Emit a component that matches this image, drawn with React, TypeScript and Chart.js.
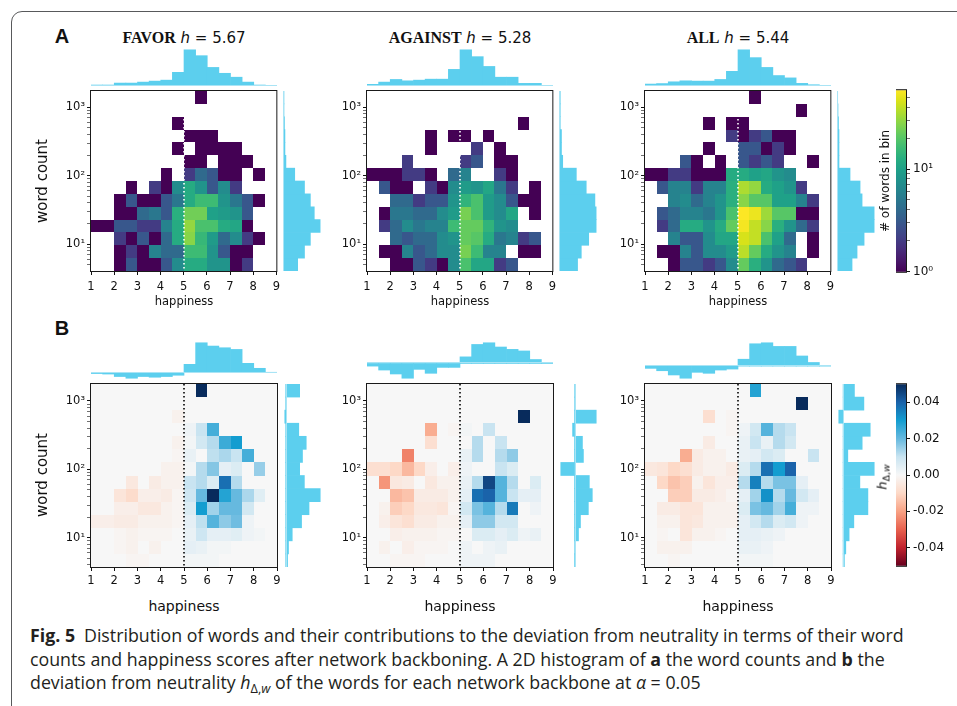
import React, { useEffect, useRef } from "react";
import { Chart, registerables } from "chart.js";

Chart.register(...registerables);

// ---------------------------------------------------------------- data
const STANCES = ["FAVOR", "AGAINST", "ALL"];
const MEAN_HAPPINESS = ["5.67", "5.28", "5.44"];
const HAPPINESS_EDGES = [1, 1.5, 2, 2.5, 3, 3.5, 4, 4.5, 5, 5.5, 6, 6.5, 7, 7.5, 8, 8.5, 9];
const HAPPINESS_TICKS = [1, 2, 3, 4, 5, 6, 7, 8, 9];
const NEUTRAL_HAPPINESS = 5;
const WORD_COUNT_BINS = 14;
const WORD_COUNT_LOG_RANGE_A = [0.606, 3.238];
const WORD_COUNT_LOG_RANGE_B = [0.572, 3.247];
const COUNT_COLOR_MAX = 58.5;
const COUNT_CBAR_MAJOR = [1, 10];
const DELTA_LIMIT = 0.05;
const DELTA_CBAR_TICKS = [-0.04, -0.02, 0, 0.02, 0.04];
const DELTA_UNIT = 0.001; // delta grids below are in thousandths

// words per (happiness bin, word-count bin); rows = word-count bins from low to high
const favorCounts = [
  [0, 0, 1, 3, 1, 1, 3, 7, 12, 12, 8, 8, 1, 2, 0, 0],
  [0, 0, 1, 2, 1, 6, 4, 4, 16, 16, 8, 3, 1, 1, 0, 0],
  [0, 0, 2, 1, 3, 1, 4, 12, 28, 15, 9, 4, 7, 2, 1, 0],
  [1, 1, 3, 3, 2, 2, 6, 12, 30, 18, 18, 12, 11, 1, 0, 0],
  [0, 0, 1, 1, 4, 5, 3, 13, 24, 24, 10, 9, 8, 3, 0, 0],
  [0, 0, 1, 3, 1, 1, 3, 5, 12, 16, 16, 8, 5, 3, 1, 0],
  [0, 0, 0, 1, 0, 2, 1, 7, 12, 8, 3, 7, 2, 0, 0, 0],
  [0, 0, 0, 0, 0, 0, 1, 0, 2, 4, 3, 1, 1, 0, 1, 0],
  [0, 0, 0, 0, 0, 0, 0, 0, 1, 1, 0, 1, 1, 1, 0, 0],
  [0, 0, 0, 0, 0, 0, 0, 1, 0, 1, 1, 1, 1, 0, 0, 0],
  [0, 0, 0, 0, 0, 0, 0, 0, 1, 1, 1, 0, 0, 0, 0, 0],
  [0, 0, 0, 0, 0, 0, 0, 1, 0, 0, 0, 0, 0, 0, 0, 0],
  [0, 0, 0, 0, 0, 0, 0, 0, 0, 0, 0, 0, 0, 0, 0, 0],
  [0, 0, 0, 0, 0, 0, 0, 0, 0, 1, 0, 0, 0, 0, 0, 0],
];
const againstCounts = [
  [0, 0, 1, 1, 3, 2, 1, 7, 18, 11, 11, 2, 3, 0, 0, 0],
  [0, 1, 1, 6, 3, 4, 7, 7, 25, 16, 6, 6, 0, 1, 1, 0],
  [0, 0, 4, 3, 4, 4, 7, 8, 22, 20, 12, 5, 6, 2, 3, 0],
  [0, 2, 4, 7, 5, 6, 6, 16, 22, 22, 14, 8, 7, 0, 0, 0],
  [0, 1, 5, 5, 4, 4, 7, 9, 25, 18, 9, 7, 11, 0, 1, 0],
  [0, 0, 4, 4, 2, 3, 3, 8, 14, 18, 9, 7, 3, 1, 1, 0],
  [0, 3, 1, 1, 0, 2, 1, 7, 9, 8, 11, 5, 2, 0, 1, 0],
  [1, 1, 1, 2, 2, 1, 0, 4, 6, 0, 0, 2, 1, 0, 0, 0],
  [0, 0, 0, 2, 0, 0, 0, 0, 2, 3, 0, 1, 1, 0, 0, 0],
  [0, 0, 0, 0, 0, 1, 0, 0, 0, 2, 0, 1, 0, 0, 0, 0],
  [0, 0, 0, 0, 0, 1, 0, 1, 1, 0, 1, 0, 0, 0, 0, 0],
  [0, 0, 0, 0, 0, 0, 0, 0, 0, 0, 0, 0, 0, 1, 0, 0],
  [0, 0, 0, 0, 0, 0, 0, 0, 0, 0, 0, 0, 0, 0, 0, 0],
  [0, 0, 0, 0, 0, 0, 0, 0, 0, 0, 0, 0, 0, 0, 0, 0],
];
const allCounts = [
  [0, 0, 1, 3, 3, 2, 3, 7, 22, 13, 8, 4, 3, 2, 0, 0],
  [0, 1, 1, 6, 3, 7, 7, 9, 38, 22, 12, 8, 6, 0, 1, 0],
  [0, 0, 6, 3, 3, 7, 11, 11, 45, 40, 18, 10, 4, 0, 1, 0],
  [0, 2, 4, 12, 12, 8, 12, 22, 55, 40, 28, 13, 8, 4, 2, 0],
  [0, 3, 4, 6, 6, 5, 8, 18, 58, 52, 32, 20, 20, 1, 1, 0],
  [0, 0, 6, 7, 4, 6, 8, 13, 28, 20, 20, 10, 10, 6, 2, 0],
  [0, 3, 6, 6, 2, 6, 6, 13, 35, 30, 12, 10, 8, 2, 0, 0],
  [1, 1, 2, 2, 1, 1, 1, 12, 12, 10, 11, 8, 7, 0, 0, 0],
  [0, 0, 0, 3, 1, 0, 1, 0, 3, 2, 3, 2, 0, 0, 1, 0],
  [0, 0, 0, 0, 0, 1, 0, 0, 3, 3, 1, 2, 1, 0, 0, 0],
  [0, 0, 0, 0, 0, 0, 0, 2, 1, 2, 3, 1, 1, 0, 0, 0],
  [0, 0, 0, 0, 0, 1, 0, 1, 1, 0, 0, 0, 0, 0, 0, 0],
  [0, 0, 0, 0, 0, 0, 0, 0, 0, 0, 0, 0, 0, 1, 0, 0],
  [0, 0, 0, 0, 0, 0, 0, 0, 0, 1, 0, 0, 0, 0, 0, 0],
];

// deviation from neutrality h_{Δ,w} per bin (thousandths)
const favorDelta = [
  [0, 0, 0, -1, -1, 0, 0, 0, 1, 1, 1, 0, 0, 0, 0, 0],
  [0, 0, -1, -2, 0, -2, 0, 0, 4, 3, 1, 1, 0, 0, 0, 0],
  [0, 0, -1, -2, -1, -1, -1, 0, 3, 9, 4, 4, 5, 2, 1, 0],
  [-3, -3, -4, -4, -2, -2, -2, -1, 4, 11, 22, 16, 19, 2, 0, 0],
  [0, 0, -3, -3, -5, -5, -2, -1, 6, 30, 14, 20, 20, 8, 0, 0],
  [0, 0, -6, -9, -3, -3, -4, -1, 9, 20, 50, 28, 20, 13, 5, 0],
  [0, 0, 0, -5, 0, -4, -2, -2, 10, 12, 6, 38, 12, 0, 0, 0],
  [0, 0, 0, 0, 0, 0, -2, -2, 1, 12, 17, 4, 6, 0, 15, 0],
  [0, 0, 0, 0, 0, 0, 0, -1, 3, 0, 11, 13, 10, 24, 0, 0],
  [0, 0, 0, 0, 0, 0, 0, -2, 1, 8, 12, 25, 30, 0, 0, 0],
  [0, 0, 0, 0, 0, 0, 0, 0, 2, 10, 24, 0, 0, 0, 0, 0],
  [0, 0, 0, 0, 0, 0, 0, -2, 0, 0, 0, 0, 0, 0, 0, 0],
  [0, 0, 0, 0, 0, 0, 0, 0, 0, 0, 0, 0, 0, 0, 0, 0],
  [0, 0, 0, 0, 0, 0, 0, 0, 0, 50, 0, 0, 0, 0, 0, 0],
];
const againstDelta = [
  [0, 0, -1, -1, -1, 0, 0, 0, 2, 2, 2, 0, 0, 0, 0, 0],
  [0, -2, 0, -3, -1, -1, -1, 0, 2, 0, 2, 3, 0, 0, 0, 0],
  [0, 0, -3, -2, -2, -2, -1, -1, 0, 6, 6, 4, 6, 2, 3, 0],
  [0, -3, -6, -8, -4, -4, -2, -2, 4, 16, 16, 8, 8, 0, 0, 0],
  [0, -2, -12, -10, -5, -5, -6, -1, 8, 18, 22, 12, 36, 0, 2, 0],
  [0, 0, -16, -14, -4, -4, -4, -2, 4, 38, 40, 22, 10, 4, 4, 0],
  [0, -22, -5, -4, 0, -5, -2, -2, 3, 12, 45, 22, 12, 0, 6, 0],
  [-8, -8, -10, -16, -10, -3, 0, -3, 2, 0, 0, 10, 6, 0, 0, 0],
  [0, 0, 0, -25, 0, 0, 0, 0, 3, 12, 0, 12, 16, 0, 0, 0],
  [0, 0, 0, 0, 0, -8, 0, 0, 0, 12, 0, 10, 0, 0, 0, 0],
  [0, 0, 0, 0, 0, -18, 0, -1, 1, 0, 10, 0, 0, 0, 0, 0],
  [0, 0, 0, 0, 0, 0, 0, 0, 0, 0, 0, 0, 0, 50, 0, 0],
  [0, 0, 0, 0, 0, 0, 0, 0, 0, 0, 0, 0, 0, 0, 0, 0],
  [0, 0, 0, 0, 0, 0, 0, 0, 0, 0, 0, 0, 0, 0, 0, 0],
];
const allDelta = [
  [0, 0, -1, 0, 0, 0, 0, 0, 1, 1, 1, 0, 0, 0, 0, 0],
  [0, -2, -2, -2, 0, 0, 0, 0, 3, 3, 2, 0, 0, 0, 0, 0],
  [0, -1, 0, -6, -2, -2, -1, 0, 4, 4, 3, 2, 0, 0, 0, 0],
  [0, -2, -2, -6, -5, -2, -2, -2, 4, 8, 12, 6, 8, 2, 0, 0],
  [0, -4, -4, -6, -6, -2, -2, -2, 6, 18, 20, 14, 24, 2, 2, 0],
  [0, 0, -12, -12, -4, -4, -3, -1, 4, 14, 32, 12, 20, 8, 4, 0],
  [0, -10, -14, -12, -2, -6, -3, -3, 12, 35, 12, 18, 18, 4, 0, 0],
  [-5, -6, -10, -8, -4, -2, -2, -4, 6, 12, 38, 30, 40, 0, 0, 0],
  [0, 0, 0, -18, -4, -2, -2, 0, 3, 4, 8, 6, 0, 0, 10, 0],
  [0, 0, 0, 0, 0, -4, 0, 0, 3, 10, 3, 12, 8, 0, 0, 0],
  [0, 0, 0, 0, 0, 0, 0, -1, 2, 8, 22, 12, 10, 0, 0, 0],
  [0, 0, 0, 0, 0, -8, 0, -1, 0, 0, 0, 0, 0, 0, 0, 0],
  [0, 0, 0, 0, 0, 0, 0, 0, 0, 0, 0, 0, 0, 50, 0, 0],
  [0, 0, 0, 0, 0, 0, 0, 0, 0, 28, 0, 0, 0, 0, 0, 0],
];

// marginal distributions (relative heights), happiness bins left -> right
const favorHappinessHist = [1, 1, 3, 3, 4, 5, 6, 14, 37, 31, 19, 13, 9, 4, 1, 0];
const againstHappinessHist = [1.7, 4, 6.7, 5.3, 6, 7, 7, 17, 37, 30, 20, 9, 9, 2.7, 2.7, 0.7];
const allHappinessHist = [2, 2.5, 4.3, 5.3, 5, 5, 6.7, 15, 37, 29, 19, 10.7, 8.3, 2.7, 1.3, 0];
// word-count bins low -> high
const favorWordCountHist = [15, 22, 28, 38, 32, 28, 22, 12, 3, 2, 2, 1.5, 1, 1];
const againstWordCountHist = [15, 18, 24, 30, 30, 29, 22, 14, 3, 2, 2, 1, 1, 1];
const allWordCountHist = [15, 20, 27, 37, 37, 25, 23, 13, 2, 2, 2, 1.5, 1, 0.7];

const favorDeltaByHappiness = [-1, -1.5, -4, -5.7, -4, -4.7, -4, -2.7, 8.3, 30, 26.7, 25, 23.3, 9.3, 4.3, 0.3];
const againstDeltaByHappiness = [-2.7, -6.7, -10.7, -15, -6, -10, -4, -4, 6.7, 19.3, 21, 16.7, 14.3, 12.7, 4, 0.7];
const allDeltaByHappiness = [-2.3, -4.7, -9, -12.3, -6.3, -7.3, -4, -3, 7, 22.7, 23.7, 20, 20, 10.3, 3.7, 0.3];
const favorDeltaByWordCount = [2, 3, 7, 17, 25, 37, 20, 15, 18, 22, 14, -1, 0, 15];
const againstDeltaByWordCount = [1, 0, 4, 6, 14, 18, 15, -14, 9, 8, -2, 22, 0, 0];
const allDeltaByWordCount = [1.3, 2.7, 6, 10.7, 24.7, 24.7, 16.7, 31, 4.7, 19, 27, -4.3, 20.7, 11.3];

// ---------------------------------------------------------------- styles / layout
const PANEL_LEFT = [91, 367, 645];
const PLOT_W = 186;
const ROW_A = { top: 91, height: 180 };
const ROW_B = { top: 384, height: 183 };
const TOP_HIST_A = { top: 48, height: 38 };
const TOP_HIST_B = { top: 341, height: 39 };
const RIGHT_HIST_LEFT = [283, 559, 837];
const RIGHT_HIST_W = 39;
const CBAR_LEFT = 896;
const CBAR_W = 10;
const Y_AXIS_W = 45;
const X_AXIS_H = 28;
const HM_PAD_T = 10;
const HM_PAD_R = 8;
const CB_AXIS_W = 44;
const CB_PAD = 10;
const HIST_FILL = "#5ccfee";
const HIST_EDGE = "#a9e4f5";
const FRAME_COLOR = "#1a1a1a";
const TICK_FONT = { family: "DejaVu Sans", size: 11.5 };
const CB_FONT = { family: "DejaVu Sans", size: 12 };

const VIRIDIS: [number, string][] = [
  [0.0, "#440154"], [0.0625, "#48186a"], [0.125, "#472d7b"], [0.1875, "#424086"],
  [0.25, "#3b528b"], [0.3125, "#33638d"], [0.375, "#2c728e"], [0.4375, "#26828e"],
  [0.5, "#21918c"], [0.5625, "#1fa088"], [0.625, "#28ae80"], [0.6875, "#3fbc73"],
  [0.75, "#5ec962"], [0.8125, "#84d44b"], [0.875, "#addc30"], [0.9375, "#d8e219"],
  [1.0, "#fde725"],
];
const RDBU: [number, string][] = [
  [0.0, "#67001f"], [0.1, "#c0232e"], [0.2, "#e8614e"], [0.3, "#f8a284"],
  [0.4, "#fdd9c7"], [0.5, "#f7f7f7"], [0.6, "#c9e4f1"], [0.7, "#66b9df"],
  [0.8, "#139dd0"], [0.9, "#1a63aa"], [1.0, "#082b5c"],
];
const DELTA_ZERO_COLOR = "#f7f7f7";

function hexRgb(h: string) {
  const n = parseInt(h.slice(1), 16);
  return [(n >> 16) & 255, (n >> 8) & 255, n & 255];
}
function sampleMap(stops: [number, string][], t: number) {
  const tt = Math.max(0, Math.min(1, t));
  for (let k = 1; k < stops.length; k++) {
    if (tt <= stops[k][0]) {
      const [t0, c0] = stops[k - 1];
      const [t1, c1] = stops[k];
      const f = (tt - t0) / (t1 - t0);
      const a = hexRgb(c0), b = hexRgb(c1);
      const m = a.map((v, i) => Math.round(v + (b[i] - v) * f));
      return `rgb(${m[0]},${m[1]},${m[2]})`;
    }
  }
  return stops[stops.length - 1][1];
}

const SUP: Record<string, string> = { "0": "⁰", "1": "¹", "2": "²", "3": "³", "4": "⁴" };
function powLabel(v: number) {
  const e = Math.log10(v);
  if (Math.abs(e - Math.round(e)) > 1e-6) return "";
  return "10" + String(Math.round(e)).split("").map((c) => SUP[c]).join("");
}
function logTickList(min: number, max: number) {
  const out: any[] = [];
  for (let e = -1; e <= 4; e++) {
    for (let m = 1; m <= 9; m++) {
      const v = m * Math.pow(10, e);
      if (v >= min * 0.9999 && v <= max * 1.0001) out.push({ value: v, major: m === 1 });
    }
  }
  return out;
}

const BASE = {
  animation: false,
  responsive: false,
  maintainAspectRatio: false,
  devicePixelRatio: 1,
  events: [],
  plugins: { legend: { display: false }, tooltip: { enabled: false }, title: { display: false } },
};

function drawFrame(chart: any) {
  const { ctx, chartArea: a } = chart;
  ctx.save();
  ctx.strokeStyle = FRAME_COLOR;
  ctx.lineWidth = 1;
  ctx.setLineDash([]);
  ctx.strokeRect(a.left - 0.5, a.top - 0.5, a.right - a.left + 1, a.bottom - a.top + 1);
  ctx.restore();
}

function heatmapConfig(grid: number[][], logRange: number[], mode: "count" | "delta") {
  const [lo, hi] = logRange;
  const yMin = Math.pow(10, lo);
  const yMax = Math.pow(10, hi);
  const edges = Array.from({ length: WORD_COUNT_BINS + 1 }, (_, k) =>
    Math.pow(10, lo + (k * (hi - lo)) / WORD_COUNT_BINS)
  );
  const heat = {
    id: "heat",
    beforeDatasetsDraw(chart: any) {
      const { ctx, chartArea: a, scales } = chart;
      const xs = scales.x, ys = scales.y;
      ctx.save();
      if (mode === "delta") {
        ctx.fillStyle = DELTA_ZERO_COLOR;
        ctx.fillRect(a.left, a.top, a.right - a.left, a.bottom - a.top);
      }
      grid.forEach((row, j) =>
        row.forEach((v, i) => {
          let color: string | null = null;
          if (mode === "count") {
            if (v > 0) color = sampleMap(VIRIDIS, Math.log(v) / Math.log(COUNT_COLOR_MAX));
          } else if (v !== 0) {
            color = sampleMap(RDBU, (v * DELTA_UNIT + DELTA_LIMIT) / (2 * DELTA_LIMIT));
          }
          if (!color) return;
          const x0 = Math.round(xs.getPixelForValue(HAPPINESS_EDGES[i]));
          const x1 = Math.round(xs.getPixelForValue(HAPPINESS_EDGES[i + 1]));
          const yb = Math.round(ys.getPixelForValue(edges[j]));
          const yt = Math.round(ys.getPixelForValue(edges[j + 1]));
          ctx.fillStyle = color;
          ctx.fillRect(x0, yt, x1 - x0, yb - yt);
        })
      );
      const xd = Math.round(xs.getPixelForValue(NEUTRAL_HAPPINESS));
      ctx.strokeStyle = mode === "count" ? "#ffffff" : "#000000";
      ctx.lineWidth = 1.6;
      ctx.setLineDash([1.6, 2.4]);
      ctx.beginPath();
      ctx.moveTo(xd, a.top);
      ctx.lineTo(xd, a.bottom);
      ctx.stroke();
      ctx.restore();
    },
    afterDraw(chart: any) {
      drawFrame(chart);
    },
  };
  return {
    type: "scatter",
    data: { datasets: [] },
    options: {
      ...BASE,
      layout: { padding: { left: 0, top: HM_PAD_T, right: HM_PAD_R, bottom: 0 } },
      scales: {
        x: {
          type: "linear",
          min: 1,
          max: 9,
          afterFit: (s: any) => { s.height = X_AXIS_H; },
          afterBuildTicks: (s: any) => { s.ticks = HAPPINESS_TICKS.map((v) => ({ value: v })); },
          ticks: { font: TICK_FONT, color: "#111", padding: mode === "count" ? 5 : 3, maxRotation: 0, autoSkip: false, callback: (v: any) => String(v) },
          grid: { display: true, drawOnChartArea: false, drawTicks: true, tickLength: 4, tickColor: "#111", tickWidth: 1 },
          border: { display: false },
        },
        y: {
          type: "logarithmic",
          min: yMin,
          max: yMax,
          afterFit: (s: any) => { s.width = Y_AXIS_W; },
          afterBuildTicks: (s: any) => { s.ticks = logTickList(yMin, yMax); },
          ticks: { font: TICK_FONT, color: "#111", padding: 2, autoSkip: false, callback: (v: any) => powLabel(v) },
          grid: {
            display: true, drawOnChartArea: false, drawTicks: true, tickLength: 4, tickColor: "#111",
            tickWidth: (c: any) => (c.tick && c.tick.major ? 1 : 0.6),
          },
          border: { display: false },
        },
      },
    },
    plugins: [heat],
  };
}

function baselinePlugin(horizontal: boolean) {
  return {
    id: "baseline",
    afterDatasetsDraw(chart: any) {
      const { ctx, chartArea: a } = chart;
      ctx.save();
      ctx.strokeStyle = HIST_EDGE;
      ctx.lineWidth = 1;
      ctx.beginPath();
      if (horizontal) {
        const p = Math.max(a.left + 0.5, Math.round(chart.scales.x.getPixelForValue(0)) + 0.5);
        ctx.moveTo(p, a.top);
        ctx.lineTo(p, a.bottom);
      } else {
        const p = Math.min(a.bottom - 0.5, Math.round(chart.scales.y.getPixelForValue(0)) - 0.5);
        ctx.moveTo(a.left, p);
        ctx.lineTo(a.right, p);
      }
      ctx.stroke();
      ctx.restore();
    },
  };
}

function histConfig(values: number[], horizontal: boolean) {
  const mx = Math.max(0, ...values);
  const mn = Math.min(0, ...values);
  const range = mx - mn;
  const valueAxis = { display: false, type: "linear", min: mn < 0 ? mn - 0.05 * range : 0, max: mx + 0.05 * range };
  const catAxis = { display: false, type: "category", reverse: horizontal, offset: true };
  return {
    type: "bar",
    data: {
      labels: values.map((_, i) => String(i)),
      datasets: [{ data: values, backgroundColor: HIST_FILL, borderWidth: 0, categoryPercentage: 1, barPercentage: 1 }],
    },
    options: {
      ...BASE,
      indexAxis: horizontal ? "y" : "x",
      layout: { padding: 0 },
      scales: horizontal ? { x: valueAxis, y: catAxis } : { x: catAxis, y: valueAxis },
    },
    plugins: [baselinePlugin(horizontal)],
  };
}

function colorbarConfig(kind: "count" | "delta") {
  const isLog = kind === "count";
  const grad = {
    id: "grad",
    beforeDatasetsDraw(chart: any) {
      const { ctx, chartArea: a } = chart;
      const g = ctx.createLinearGradient(0, a.bottom, 0, a.top);
      (isLog ? VIRIDIS : RDBU).forEach(([t, c]) => g.addColorStop(t, c));
      ctx.save();
      ctx.fillStyle = g;
      ctx.fillRect(a.left, a.top, a.right - a.left, a.bottom - a.top);
      ctx.restore();
    },
    afterDraw(chart: any) {
      drawFrame(chart);
    },
  };
  const min = isLog ? 1 : -DELTA_LIMIT;
  const max = isLog ? COUNT_COLOR_MAX : DELTA_LIMIT;
  return {
    type: "scatter",
    data: { datasets: [] },
    options: {
      ...BASE,
      layout: { padding: { top: CB_PAD, bottom: CB_PAD, left: 0, right: 0 } },
      scales: {
        x: { display: false },
        y: {
          type: isLog ? "logarithmic" : "linear",
          position: "right",
          min,
          max,
          afterFit: (s: any) => { s.width = CB_AXIS_W; },
          afterBuildTicks: (s: any) => {
            s.ticks = isLog
              ? logTickList(min, max).map((t) => ({ ...t, major: COUNT_CBAR_MAJOR.includes(t.value) }))
              : DELTA_CBAR_TICKS.map((v) => ({ value: v, major: true }));
          },
          ticks: {
            font: CB_FONT,
            color: "#111",
            padding: 3,
            autoSkip: false,
            callback: (v: any) => (isLog ? powLabel(v) : Math.abs(v) < 1e-9 ? "0.00" : Number(v).toFixed(2)),
          },
          grid: {
            display: true, drawOnChartArea: false, drawTicks: true, tickLength: 4, tickColor: "#111",
            tickWidth: (c: any) => (c.tick && c.tick.major ? 1 : 0.6),
          },
          border: { display: false },
        },
      },
    },
    plugins: [grad],
  };
}

// ---------------------------------------------------------------- components
function ChartCanvas({ left, top, width, height, build }: any) {
  const ref = useRef<HTMLCanvasElement>(null);
  useEffect(() => {
    const chart = new Chart(ref.current as HTMLCanvasElement, build());
    return () => chart.destroy();
  }, []);
  return (
    <canvas
      ref={ref}
      width={width}
      height={height}
      style={{ position: "absolute", left, top, width, height, display: "block" }}
    />
  );
}

function Txt({ x, y, size, children, family = "DejaVu Sans", weight = "normal", anchor = "middle", rotate = false, color = "#111", style = {} }: any) {
  const tx = anchor === "middle" ? "-50%" : anchor === "end" ? "-100%" : "0";
  return (
    <div
      style={{
        position: "absolute",
        left: x,
        top: y,
        transform: `translate(${tx}, -50%)${rotate ? " rotate(-90deg)" : ""}`,
        fontSize: size,
        fontFamily: family,
        fontWeight: weight,
        lineHeight: 1,
        whiteSpace: "nowrap",
        color,
        ...style,
      }}
    >
      {children}
    </div>
  );
}

const COUNT_GRIDS = [favorCounts, againstCounts, allCounts];
const DELTA_GRIDS = [favorDelta, againstDelta, allDelta];
const HAPPY_HISTS = [favorHappinessHist, againstHappinessHist, allHappinessHist];
const WORD_HISTS = [favorWordCountHist, againstWordCountHist, allWordCountHist];
const DELTA_HAPPY = [favorDeltaByHappiness, againstDeltaByHappiness, allDeltaByHappiness];
const DELTA_WORD = [favorDeltaByWordCount, againstDeltaByWordCount, allDeltaByWordCount];

export default function App() {
  const captionFont = "'Open Sans', 'Noto Sans', sans-serif";
  const capSize = 17.8;
  const subStyle = { fontSize: "0.72em", verticalAlign: "-0.3em", lineHeight: 0 };
  return (
    <div style={{ position: "fixed", left: 0, top: 0, width: 957, height: 706, background: "#fff", overflow: "hidden" }}>
      <div
        style={{
          position: "absolute", left: 11, top: 11, width: 990, height: 712,
          border: "1.4px solid #58595b", borderRadius: 11, boxSizing: "border-box",
        }}
      />
      <Txt x={62} y={36} size={20} family="'Liberation Sans', Arial, sans-serif" weight="bold">A</Txt>
      <Txt x={62} y={328} size={20} family="'Liberation Sans', Arial, sans-serif" weight="bold">B</Txt>

      {STANCES.map((stance, i) => {
        const left = PANEL_LEFT[i];
        const cx = left + PLOT_W / 2;
        return (
          <React.Fragment key={stance}>
            <Txt x={cx} y={38} size={15}>
              <span style={{ fontFamily: "'Liberation Serif', serif", fontWeight: "bold", fontSize: 16 }}>{stance}</span>{" "}
              <i>h</i> = {MEAN_HAPPINESS[i]}
            </Txt>
            {/* row A */}
            <ChartCanvas
              left={left - Y_AXIS_W}
              top={ROW_A.top - HM_PAD_T}
              width={Y_AXIS_W + PLOT_W + HM_PAD_R}
              height={HM_PAD_T + ROW_A.height + X_AXIS_H}
              build={() => heatmapConfig(COUNT_GRIDS[i], WORD_COUNT_LOG_RANGE_A, "count")}
            />
            <ChartCanvas left={left} top={TOP_HIST_A.top} width={PLOT_W} height={TOP_HIST_A.height} build={() => histConfig(HAPPY_HISTS[i], false)} />
            <ChartCanvas left={RIGHT_HIST_LEFT[i]} top={ROW_A.top} width={RIGHT_HIST_W} height={ROW_A.height} build={() => histConfig(WORD_HISTS[i], true)} />
            <Txt x={cx} y={302} size={11.5}>happiness</Txt>
            {/* row B */}
            <ChartCanvas
              left={left - Y_AXIS_W}
              top={ROW_B.top - HM_PAD_T}
              width={Y_AXIS_W + PLOT_W + HM_PAD_R}
              height={HM_PAD_T + ROW_B.height + X_AXIS_H}
              build={() => heatmapConfig(DELTA_GRIDS[i], WORD_COUNT_LOG_RANGE_B, "delta")}
            />
            <ChartCanvas left={left} top={TOP_HIST_B.top} width={PLOT_W} height={TOP_HIST_B.height} build={() => histConfig(DELTA_HAPPY[i], false)} />
            <ChartCanvas left={RIGHT_HIST_LEFT[i]} top={ROW_B.top} width={RIGHT_HIST_W} height={ROW_B.height} build={() => histConfig(DELTA_WORD[i], true)} />
            <Txt x={cx} y={606} size={14}>happiness</Txt>
          </React.Fragment>
        );
      })}

      <Txt x={42} y={181} size={15} rotate>word count</Txt>
      <Txt x={42} y={475} size={15} rotate>word count</Txt>

      <ChartCanvas left={CBAR_LEFT} top={90 - CB_PAD} width={CBAR_W + CB_AXIS_W} height={182 + 2 * CB_PAD} build={() => colorbarConfig("count")} />
      <ChartCanvas left={CBAR_LEFT} top={384 - CB_PAD} width={CBAR_W + CB_AXIS_W} height={182 + 2 * CB_PAD} build={() => colorbarConfig("delta")} />
      <Txt x={885} y={181} size={12} rotate># of words in bin</Txt>
      <Txt x={882} y={477} size={13} rotate>
        <i>h</i>
        <sub style={subStyle}>Δ,<i>w</i></sub>
      </Txt>

      <Txt x={30} y={636} size={capSize} anchor="start" family={captionFont} color="#231f20">
        <b>Fig. 5</b>{"\u2002"}Distribution of words and their contributions to the deviation from neutrality in terms of their word
      </Txt>
      <Txt x={30} y={660} size={capSize} anchor="start" family={captionFont} color="#231f20">
        counts and happiness scores after network backboning. A 2D histogram of <b>a</b> the word counts and <b>b</b> the
      </Txt>
      <Txt x={30} y={683} size={capSize} anchor="start" family={captionFont} color="#231f20">
        deviation from neutrality <i>h</i>
        <sub style={subStyle}>Δ,<i>w</i></sub> of the words for each network backbone at <i>α</i> = 0.05
      </Txt>
    </div>
  );
}
